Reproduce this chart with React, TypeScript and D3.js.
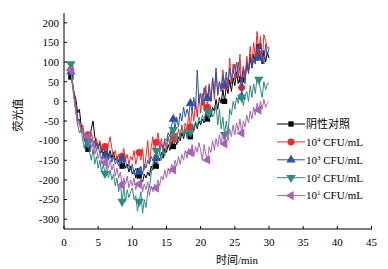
import React from "react";
import * as d3 from "d3";

const T0 = 1;
const DT = 0.25;

const negative = [
  62, 45, 20, 5, -30, -20, -60, -75, -100, -90, -122, -95, -70, -50, -90, -110,
  -120, -105, -130, -115, -135, -120, -140, -125, -145, -130, -150, -140,
  -155, -140, -165, -150, -170, -160, -180, -165, -185, -175, -195, -170,
  -190, -200, -205, -185, -195, -180, -190, -165, -175, -150, -165, -140,
  -150, -130, -145, -120, -130, -110, -125, -100, -115, -95, -110, -90,
  -100, -80, -95, -75, -85, -70, -90, -65, -75, -55, -70, -50, -60, -45, -55, -30,
  -45, -25, -40, -15, -25, 5, -20, 10, -5, 30, 0, 40, 20, 55, 25, 60,
  40, 75, 45, 65, 55, 85, 60, 95, 75, 110, 85, 120, 100, 135, 140, 120,
  95, 130, 100, 125, 110,
];

const cfu4 = [
  80, 50, 15, -10, -40, -55, -70, -60, -90, -105, -85, -110, -80, -100, -120, -95,
  -115, -100, -125, -110, -115, -130, -110, -90, -120, -140, -125, -150,
  -135, -160, -140, -120, -150, -135, -160, -140, -150, -125, -160, -140,
  -130, -150, -120, -175, -140, -100, -160, -120, -90, -130, -105, -80,
  -120, -95, -130, -100, -120, -90, -110, -75, -95, -80, -100, -70,
  -90, -60, -85, -55, -75, -30, -65, -20, -50, 0, -40, 20, -30, 20, -20, 40,
  -15, 45, 0, 60, 5, 75, 20, 50, 25, 80, 40, 60, 30, 110, 45, 95,
  55, 100, 60, 120, 35, 90, 55, 115, 80, 140, 95, 150, 110, 178, 120, 165,
  100, 170, 155, 135, 140,
];

const cfu3 = [
  75, 40, 10, -20, -50, -45, -80, -70, -95, -85, -110, -100, -95, -115, -100, -125,
  -110, -135, -120, -140, -139, -125, -150, -135, -155, -140, -160, -150,
  -165, -150, -145, -160, -150, -170, -160, -175, -160, -185, -170, -180,
  -180, -165, -185, -160, -170, -150, -160, -140, -150, -135, -145, -120,
  -130, -110, -120, -95, -100, -80, -90, -60, -45, -70, -40, -65,
  -30, -50, -15, -40, -20, -35, -5, -25, 10, -20, 80, -5, 20, -10, 35, 5,
  8, 40, 0, 60, 20, 85, 15, 50, 30, 65, 40, 75, 45, 85, 55, 70,
  95, 60, 100, 75, 12, 80, 45, 100, 70, 120, 85, 105, 95, 140, 110, 150,
  120, 95, 145, 115, 136,
];

const cfu2 = [
  95, 50, 10, -30, -60, -80, -70, -100, -120, -95, -106, -130, -150, -120, -160, -140,
  -170, -150, -180, -160, -184, -165, -195, -175, -200, -185, -215, -195,
  -230, -205, -255, -220, -255, -225, -245, -230, -220, -250, -240, -280,
  -255, -230, -285, -250, -270, -230, -220, -185, -160, -140, -125, -145,
  -130, -150, -120, -140, -110, -90, -115, -95, -72, -100, -80, -105,
  -85, -65, -90, -70, -95, -75, -79, -60, -70, -50, -65, -40, -55, -35, -50, -25,
  -26, -45, -20, -40, -30, -10, -60, -20, -70, -40, -85, -50, -85, -20, -35, 0,
  -20, 10, -5, 20, 10, -10, 15, 25, 0, 40, 10, 45, 20, 60, 56, 30,
  10, 50, 30, 45, 45,
];

const cfu1 = [
  80, 40, 0, -30, -60, -50, -80, -70, -95, -80, -90, -110, -120, -100, -135, -120,
  -145, -130, -155, -140, -156, -140, -170, -150, -175, -160, -190, -170,
  -195, -180, -213, -195, -210, -190, -220, -200, -215, -195, -225, -205,
  -211, -195, -230, -210, -225, -205, -240, -215, -230, -210, -221, -200,
  -215, -190, -200, -175, -195, -170, -185, -160, -174, -150, -165, -140,
  -160, -135, -150, -125, -145, -120, -130, -110, -140, -115, -130, -105,
  -125, -150, -110, -135, -149, -115, -130, -100, -125, -95, -115, -85,
  -110, -80, -108, -75, -100, -70, -90, -60, -85, -55, -75, -45,
  -81, -50, -65, -35, -55, -25, -45, -15, -35, -5, -22, 0, -20, 5, -15, -5, 0,
];

const xTicks = [0, 5, 10, 15, 20, 25, 30, 35, 40, 45];
const yTicks = [-300, -250, -200, -150, -100, -50, 0, 50, 100, 150, 200];

const seriesNames = ["阴性对照", "10|4", "10|3", "10|2", "10|1"];
const seriesColors = ["#000000", "#f02a2a", "#2d52a8", "#2e8b80", "#a663b6"];
const seriesData = [negative, cfu4, cfu3, cfu2, cfu1];
const seriesSymbols = ["square", "circle", "up", "down", "left"];

const FONT = "'Liberation Serif', 'Times New Roman', 'Noto Sans CJK SC', serif";

function Marker({ kind, x, y, color }: { kind: string; x: number; y: number; color: string }) {
  let path = "";
  let rot = 0;
  if (kind === "square") path = d3.symbol(d3.symbolSquare, 28)() as string;
  else if (kind === "circle") path = d3.symbol(d3.symbolCircle, 38)() as string;
  else {
    path = d3.symbol(d3.symbolTriangle, 38)() as string;
    rot = kind === "down" ? 180 : kind === "left" ? -90 : 0;
  }
  return <path d={path} transform={`translate(${x},${y}) rotate(${rot})`} fill={color} />;
}

export default function App() {
  const width = 388;
  const height = 269;
  const x = d3.scaleLinear().domain([0, 45]).range([64, 371.5]);
  const y = d3.scaleLinear().domain([-325, 225]).range([229, 13]);
  const line = d3
    .line<number>()
    .x((_, i) => x(T0 + i * DT))
    .y((d) => y(d));

  const legendY0 = 124;
  const legendStep = 17.9;

  return (
    <svg width={width} height={height} style={{ position: "absolute", left: 0, top: 0 }} fontFamily={FONT}>
      <rect width={width} height={height} fill="#fff" />
      {seriesData.map((data, s) => (
        <g key={s}>
          <path d={line(data) as string} fill="none" stroke={seriesColors[s]} strokeWidth={1} strokeLinejoin="round" />
          {data.map((d, i) =>
            i % 10 === 0 ? (
              <Marker key={i} kind={seriesSymbols[s]} x={x(T0 + i * DT)} y={y(d)} color={seriesColors[s]} />
            ) : null
          )}
        </g>
      ))}
      {/* axes */}
      <line x1={64} x2={64} y1={13} y2={229} stroke="#000" strokeWidth={1} />
      <line x1={64} x2={372} y1={229} y2={229} stroke="#000" strokeWidth={1} />
      {yTicks.map((t) => (
        <g key={t}>
          <line x1={64} x2={67} y1={y(t)} y2={y(t)} stroke="#000" />
          <text x={59} y={y(t)} dy="0.35em" textAnchor="end" fontSize={11}>
            {t}
          </text>
        </g>
      ))}
      {xTicks.map((t) => (
        <g key={t}>
          <line x1={x(t)} x2={x(t)} y1={229} y2={226} stroke="#000" />
          <text x={x(t)} y={246} textAnchor="middle" fontSize={11}>
            {t}
          </text>
        </g>
      ))}
      <text transform="translate(22,115) rotate(-90)" textAnchor="middle" fontSize={11}>
        荧光值
      </text>
      <text x={237} y={264} textAnchor="middle" fontSize={11}>
        时间/min
      </text>
      {/* legend */}
      {seriesNames.map((name, s) => {
        const ly = legendY0 + s * legendStep;
        const parts = name.split("|");
        return (
          <g key={s}>
            <line x1={277} x2={305} y1={ly} y2={ly} stroke={seriesColors[s]} strokeWidth={1} />
            <Marker kind={seriesSymbols[s]} x={291} y={ly} color={seriesColors[s]} />
            <text x={306} y={ly} dy="0.35em" fontSize={11}>
              {parts.length === 1 ? (
                name
              ) : (
                <>
                  {parts[0]}
                  <tspan fontSize={7} dy={-4}>
                    {parts[1]}
                  </tspan>
                  <tspan dy={4}> CFU/mL</tspan>
                </>
              )}
            </text>
          </g>
        );
      })}
    </svg>
  );
}
